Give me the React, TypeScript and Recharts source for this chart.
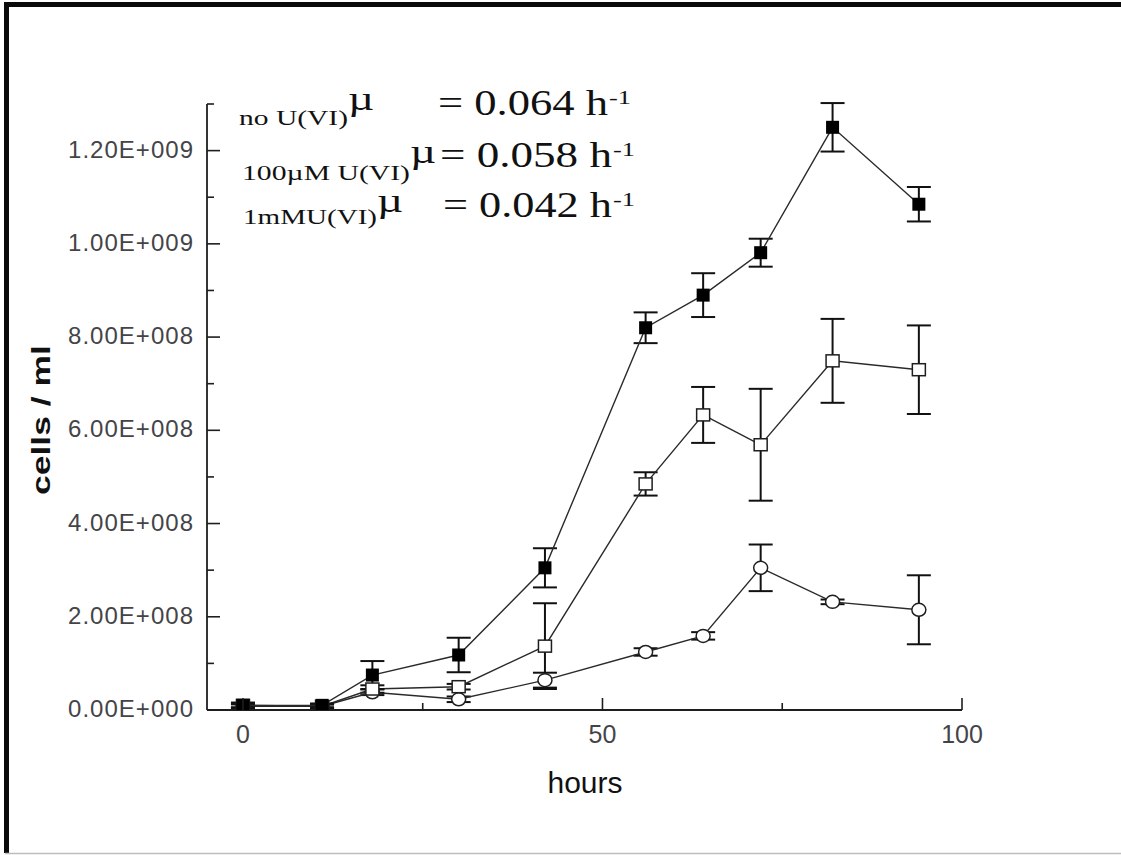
import React from 'react';
import { LineChart, Line, XAxis, YAxis, ErrorBar } from 'recharts';

// ── Data ────────────────────────────────────────────────────────────────────
const HOURS = [0, 11, 18, 30, 42, 56, 64, 72, 82, 94];

// no U(VI)  (filled squares)
const NO_U = [1.0e7, 1.0e7, 7.5e7, 1.18e8, 3.05e8, 8.2e8, 8.9e8, 9.81e8, 1.25e9, 1.085e9];
const NO_U_ERR = [4e6, 4e6, 3e7, 3.7e7, 4.2e7, 3.3e7, 4.7e7, 3e7, 5.2e7, 3.7e7];

// 100µM U(VI)  (open squares)
const U100 = [1.0e7, 8e6, 4.5e7, 5.0e7, 1.37e8, 4.85e8, 6.33e8, 5.69e8, 7.49e8, 7.3e8];
const U100_ERR = [6e6, 4e6, 8e6, 6e6, 9.2e7, 2.5e7, 6e7, 1.2e8, 9e7, 9.5e7];

// 1mM U(VI)  (open circles)
const U1M = [8e6, 8e6, 3.8e7, 2.3e7, 6.4e7, 1.245e8, 1.59e8, 3.05e8, 2.32e8, 2.15e8];
const U1M_ERR = [4e6, 4e6, 6e6, 6e6, 1.6e7, 8e6, 8e6, 5e7, 5e6, 7.4e7];

const X_TICKS = [0, 25, 50, 75, 100];
const Y_TICKS = [0, 1e8, 2e8, 3e8, 4e8, 5e8, 6e8, 7e8, 8e8, 9e8, 1e9, 1.1e9, 1.2e9, 1.3e9];

const DATA = HOURS.map((h, i) => ({
  hours: h,
  noU: NO_U[i],
  noUErr: NO_U_ERR[i],
  u100: U100[i],
  u100Err: U100_ERR[i],
  u1m: U1M[i],
  u1mErr: U1M_ERR[i],
}));

const INK = '#1e1e1e';
const LABEL = '#444448';
const SANS = '"Liberation Sans", Arial, sans-serif';
const SERIF = '"Liberation Serif", "Times New Roman", serif';

// 1.20E+009 style
function sci(v: number): string {
  if (v === 0) return '0.00E+000';
  const e = Math.floor(Math.log10(v) + 1e-9);
  const m = v / Math.pow(10, e);
  return `${m.toFixed(2)}E+${String(e).padStart(3, '0')}`;
}

// ── Inward ticks ────────────────────────────────────────────────────────────
function YTick(props: any) {
  const { x, y, payload } = props;
  const major = Math.round(payload.value / 1e8) % 2 === 0 && payload.value < 1.3e9;
  return (
    <g>
      <line x1={x} y1={y} x2={x + (major ? 13 : 7)} y2={y} stroke={INK} strokeWidth={1.6} />
      {major && (
        <text
          x={x - 14}
          y={y + 7}
          textAnchor="end"
          fontFamily={SANS}
          fontSize={24}
          fill={LABEL}
          textLength={125}
          lengthAdjust="spacing"
        >
          {sci(payload.value)}
        </text>
      )}
    </g>
  );
}

function XTick(props: any) {
  const { x, y, payload } = props;
  const major = payload.value % 50 === 0;
  return (
    <g>
      <line x1={x} y1={y} x2={x} y2={y - (major ? 12 : 7)} stroke={INK} strokeWidth={1.6} />
      {major && (
        <text x={x} y={y + 33} textAnchor="middle" fontFamily={SANS} fontSize={25} fill={LABEL}>
          {payload.value}
        </text>
      )}
    </g>
  );
}

// ── Markers ─────────────────────────────────────────────────────────────────
function FilledSquare(props: any) {
  const { cx, cy, index } = props;
  return <rect key={`f${index}`} x={cx - 6.5} y={cy - 6.5} width={13} height={13} fill="#000" />;
}

function OpenSquare(props: any) {
  const { cx, cy, index } = props;
  return (
    <rect
      key={`s${index}`}
      x={cx - 6.5}
      y={cy - 6}
      width={13}
      height={12}
      fill="#fff"
      stroke={INK}
      strokeWidth={1.5}
    />
  );
}

function OpenCircle(props: any) {
  const { cx, cy, index } = props;
  return (
    <ellipse key={`c${index}`} cx={cx} cy={cy} rx={7} ry={6.5} fill="#fff" stroke={INK} strokeWidth={1.5} />
  );
}

// ── Annotation rows (growth rates) ─────────────────────────────────────────
function RateRow({
  label, labelX, labelW, labelY, muX, muY, eqX, eqY, eqText, eqW, supX,
}: {
  label: string; labelX: number; labelW: number; labelY: number;
  muX: number; muY: number; eqX: number; eqY: number; eqText: string; eqW: number; supX: number;
}) {
  return (
    <g fontFamily={SERIF} fill="#111">
      <text x={labelX} y={labelY} fontSize={22} textLength={labelW} lengthAdjust="spacingAndGlyphs">
        {label}
      </text>
      <text x={muX} y={muY} fontSize={33} textLength={26} lengthAdjust="spacingAndGlyphs">
        µ
      </text>
      <text x={eqX} y={eqY} fontSize={35} textLength={eqW} lengthAdjust="spacingAndGlyphs">
        {eqText}
      </text>
      <text x={supX} y={eqY - 11} fontSize={18} textLength={22} lengthAdjust="spacingAndGlyphs">
        -1
      </text>
    </g>
  );
}

export default function App() {
  return (
    <div style={{ position: 'absolute', left: 0, top: 0, width: 1121, height: 855, background: '#fff' }}>
      <LineChart
        width={1121}
        height={855}
        data={DATA}
        margin={{ top: 104, right: 159, bottom: 105, left: 127 }}
      >
        <XAxis
          dataKey="hours"
          type="number"
          domain={[-5, 100]}
          ticks={X_TICKS}
          tick={<XTick />}
          tickSize={0}
          tickMargin={0}
          tickLine={false}
          height={40}
          axisLine={{ stroke: INK, strokeWidth: 1.8 }}
          allowDataOverflow
        />
        <YAxis
          type="number"
          domain={[0, 1.3e9]}
          ticks={Y_TICKS}
          tick={<YTick />}
          tickSize={0}
          tickMargin={0}
          tickLine={false}
          width={80}
          axisLine={{ stroke: INK, strokeWidth: 1.8 }}
          interval={0}
          allowDataOverflow
        />
        <Line
          dataKey="u1m"
          type="linear"
          stroke="#2a2a2a"
          strokeWidth={1.4}
          dot={OpenCircle}
          activeDot={false}
          isAnimationActive={false}
        >
          <ErrorBar dataKey="u1mErr" width={12} strokeWidth={2} stroke="#111" direction="y" isAnimationActive={false} />
        </Line>
        <Line
          dataKey="u100"
          type="linear"
          stroke="#2a2a2a"
          strokeWidth={1.4}
          dot={OpenSquare}
          activeDot={false}
          isAnimationActive={false}
        >
          <ErrorBar dataKey="u100Err" width={12} strokeWidth={2} stroke="#111" direction="y" isAnimationActive={false} />
        </Line>
        <Line
          dataKey="noU"
          type="linear"
          stroke="#2a2a2a"
          strokeWidth={1.4}
          dot={FilledSquare}
          activeDot={false}
          isAnimationActive={false}
        >
          <ErrorBar dataKey="noUErr" width={12} strokeWidth={2} stroke="#111" direction="y" isAnimationActive={false} />
        </Line>
      </LineChart>

      <svg
        width={1121}
        height={855}
        style={{ position: 'absolute', left: 0, top: 0, pointerEvents: 'none' }}
      >
        {/* picture frame */}
        <rect x={5} y={2} width={1116} height={5} fill="#0a0a0a" />
        <rect x={4} y={2} width={5} height={851} fill="#0a0a0a" />
        <line x1={5} y1={853.5} x2={1121} y2={853.5} stroke="#bdbdbd" strokeWidth={1.5} />

        {/* axis titles */}
        <text
          transform="translate(50,420) rotate(-90)"
          textAnchor="middle"
          fontFamily={SANS}
          fontWeight="bold"
          fontSize={25}
          fill="#111"
          textLength={150}
          lengthAdjust="spacingAndGlyphs"
        >
          cells / ml
        </text>
        <text
          x={585}
          y={793}
          textAnchor="middle"
          fontFamily={SANS}
          fontSize={29}
          fill="#111"
          textLength={75}
          lengthAdjust="spacingAndGlyphs"
        >
          hours
        </text>

        <RateRow label="no U(VI)" labelX={239} labelW={109} labelY={125} muX={348} muY={110}
          eqX={438} eqY={115} eqText="= 0.064 h" eqW={170} supX={609} />
        <RateRow label="100µM U(VI)" labelX={242} labelW={168} labelY={180} muX={410} muY={163}
          eqX={440} eqY={167} eqText="= 0.058 h" eqW={172} supX={613} />
        <RateRow label="1mMU(VI)" labelX={243} labelW={134} labelY={224} muX={377} muY={212}
          eqX={443} eqY={217} eqText="= 0.042 h" eqW={169} supX={613} />
      </svg>
    </div>
  );
}
